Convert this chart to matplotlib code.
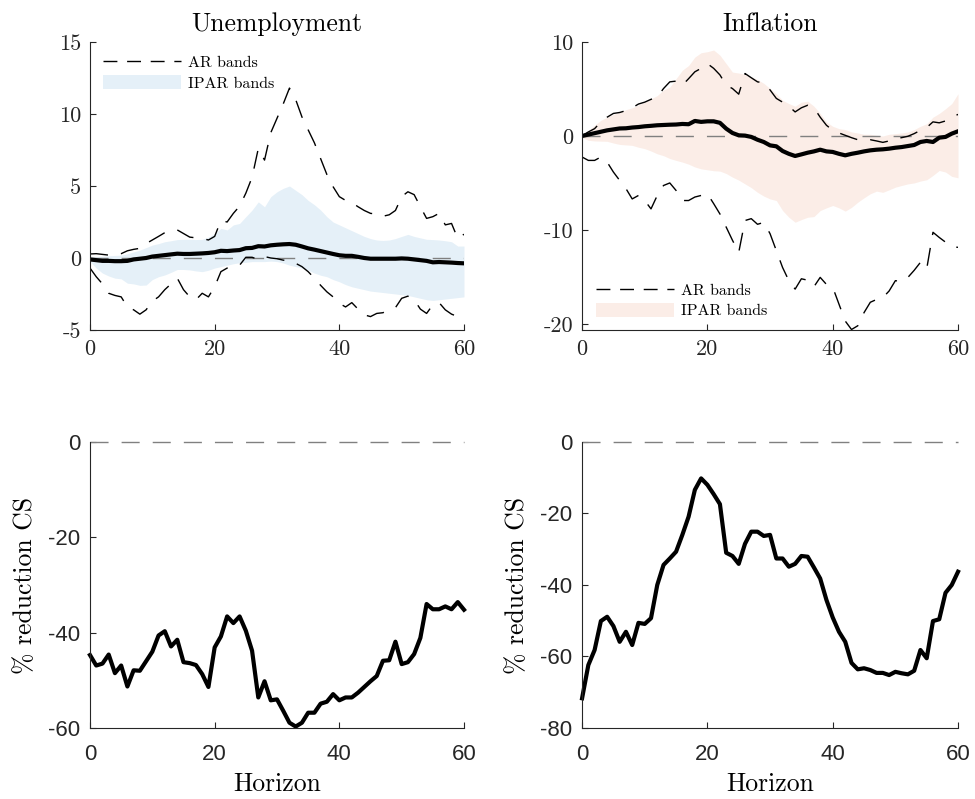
"""
Impulse response bands (AR vs IPAR) and the % reduction in confidence-set width.
"""

import numpy as np
import matplotlib
matplotlib.use("Agg")
import matplotlib.pyplot as plt
from matplotlib.patches import Patch
from matplotlib.lines import Line2D

horizon = np.arange(61)

# Unemployment: point estimate, AR bands and IPAR bands
unemp_mid = [-0.1, -0.15, -0.2, -0.2, -0.22, -0.22, -0.2, -0.1, -0.05, 0.0,
             0.1, 0.15, 0.2, 0.25, 0.3, 0.28, 0.28, 0.3, 0.32, 0.35,
             0.4, 0.5, 0.48, 0.52, 0.55, 0.68, 0.7, 0.82, 0.8, 0.88,
             0.92, 0.95, 0.97, 0.92, 0.8, 0.67, 0.58, 0.48, 0.38, 0.28,
             0.19, 0.15, 0.15, 0.08, 0.0, -0.05, -0.05, -0.05, -0.05, -0.05,
             -0.03, -0.05, -0.1, -0.15, -0.2, -0.3, -0.28, -0.3, -0.32, -0.35,
             -0.37]
unemp_ar_hi = [0.28, 0.3, 0.25, 0.2, 0.22, 0.3, 0.5, 0.6, 0.67, 1.0,
               1.25, 1.5, 1.76, 1.9, 1.95, 1.7, 1.45, 1.4, 1.35, 1.25,
               1.5, 2.6, 2.5, 3.1, 3.6, 4.5, 5.6, 7.6, 6.8, 8.7,
               9.7, 10.7, 11.8, 11.0, 9.8, 8.9, 8.0, 6.9, 5.8, 4.95,
               4.26, 4.0, 3.85, 3.56, 3.3, 3.1, 3.05, 2.9, 3.0, 3.3,
               4.26, 4.6, 4.4, 3.56, 2.75, 2.87, 3.1, 2.3, 2.4, 1.35,
               1.65]
unemp_ar_lo = [-0.7, -1.3, -1.8, -2.45, -2.6, -2.7, -3.4, -3.6, -3.9, -3.6,
               -3.0, -2.7, -2.2, -1.8, -1.4, -2.2, -2.7, -2.9, -2.45, -2.7,
               -2.0, -0.95, -0.7, -0.55, -0.5, 0.05, 0.05, -0.1, 0.1, 0.0,
               -0.05, -0.15, -0.2, -0.37, -0.6, -0.95, -1.4, -1.9, -2.35, -2.7,
               -3.15, -3.4, -3.1, -3.55, -3.95, -4.07, -3.85, -3.8, -3.6, -3.45,
               -2.8, -2.65, -2.9, -3.55, -3.85, -3.25, -3.1, -3.6, -3.9, -4.07,
               -4.3]
unemp_ipar_hi = [0.05, 0.1, 0.12, 0.15, 0.18, 0.2, 0.3, 0.42, 0.55, 0.72,
                 0.9, 1.0, 1.13, 1.2, 1.28, 1.3, 1.3, 1.28, 1.3, 1.45,
                 1.7, 2.06, 1.95, 2.3, 2.4, 2.87, 3.33, 3.9, 3.56, 4.26,
                 4.6, 4.84, 5.0, 4.7, 4.4, 4.0, 3.7, 3.33, 2.87, 2.5,
                 2.3, 2.1, 1.9, 1.7, 1.5, 1.35, 1.25, 1.22, 1.25, 1.35,
                 1.5, 1.64, 1.5, 1.4, 1.3, 1.28, 1.25, 1.2, 1.13, 0.83,
                 0.83]
unemp_ipar_lo = [-0.25, -0.7, -1.05, -1.25, -1.4, -1.45, -1.75, -1.8, -1.9, -1.88,
                 -1.5, -1.3, -1.18, -1.0, -0.8, -0.8, -0.83, -0.9, -0.95, -0.85,
                 -0.7, -0.6, -0.5, -0.4, -0.33, -0.3, -0.25, -0.25, -0.25, -0.22,
                 -0.25, -0.35, -0.5, -0.6, -0.7, -0.85, -1.05, -1.2, -1.3, -1.5,
                 -1.65, -1.85, -2.0, -2.1, -2.2, -2.3, -2.35, -2.4, -2.45, -2.5,
                 -2.55, -2.6, -2.7, -2.8, -2.9, -2.95, -2.9, -2.85, -2.8, -2.75,
                 -2.7]

# Inflation: point estimate, AR bands and IPAR bands
infl_mid = [0.0, 0.15, 0.3, 0.45, 0.6, 0.7, 0.8, 0.82, 0.9, 0.95,
            1.03, 1.08, 1.14, 1.17, 1.2, 1.22, 1.28, 1.25, 1.6, 1.5,
            1.56, 1.56, 1.4, 0.78, 0.32, 0.07, 0.04, -0.1, -0.4, -0.64,
            -1.0, -1.1, -1.6, -1.9, -2.13, -1.96, -1.78, -1.64, -1.46, -1.64,
            -1.7, -1.9, -2.06, -1.9, -1.78, -1.64, -1.53, -1.46, -1.42, -1.35,
            -1.25, -1.18, -1.07, -0.96, -0.64, -0.53, -0.64, -0.18, -0.1, 0.25,
            0.5]
infl_ar_hi = [0.03, 0.43, 0.78, 1.5, 2.0, 2.4, 2.5, 2.7, 3.0, 3.4,
              3.6, 3.9, 4.16, 5.05, 5.76, 5.84, 5.4, 6.1, 6.83, 7.2,
              7.7, 7.2, 6.5, 5.4, 5.05, 4.45, 6.65, 6.2, 5.76, 5.66,
              4.9, 4.0, 3.6, 3.17, 2.56, 3.0, 3.27, 3.0, 2.0, 1.14,
              0.6, 0.32, 0.07, -0.18, -0.4, -0.46, -0.4, -0.53, -0.68, -0.53,
              -0.28, -0.18, -0.03, 0.25, 0.6, 0.9, 1.5, 1.4, 1.6, 1.96,
              2.3]
infl_ar_lo = [-2.24, -2.6, -2.6, -2.24, -2.78, -3.84, -4.73, -5.6, -6.7, -6.33,
              -6.87, -7.76, -6.33, -5.27, -5.0, -5.8, -6.87, -6.87, -6.5, -6.33,
              -6.15, -7.2, -8.3, -9.7, -11.1, -12.4, -9.0, -8.8, -9.4, -9.2,
              -10.4, -12.2, -14.0, -15.4, -16.3, -15.2, -15.35, -16.05, -15.05, -15.8,
              -16.1, -17.9, -19.7, -20.6, -20.2, -18.8, -17.7, -17.4, -17.2, -16.5,
              -15.4, -15.5, -15.05, -14.3, -13.45, -14.15, -10.25, -10.8, -11.3, -11.8,
              -11.85]
infl_ipar_hi = [0.0, 0.6, 1.14, 1.67, 2.0, 2.3, 2.56, 2.8, 3.0, 3.3,
                3.6, 3.95, 4.3, 4.9, 5.2, 6.1, 7.0, 7.5, 8.4, 8.86,
                8.97, 9.15, 8.6, 7.7, 6.8, 6.7, 6.58, 6.3, 6.0, 5.6,
                5.05, 4.5, 3.8, 3.45, 3.17, 3.6, 3.7, 3.17, 2.4, 1.5,
                1.03, 0.78, 0.68, 0.43, 0.32, 0.18, 0.18, 0.07, 0.0, 0.18,
                0.25, 0.32, 0.43, 0.68, 1.03, 1.3, 2.0, 2.4, 2.9, 3.45,
                4.5]
infl_ipar_lo = [-0.18, -0.46, -0.53, -0.55, -0.57, -0.75, -0.9, -0.95, -1.0, -1.2,
                -1.35, -1.6, -1.9, -2.1, -2.4, -2.6, -2.78, -3.0, -3.3, -3.5,
                -3.6, -3.7, -3.74, -4.0, -4.38, -4.7, -5.1, -5.5, -6.0, -6.4,
                -6.7, -6.87, -7.94, -8.65, -9.18, -8.9, -8.65, -8.58, -7.94, -7.65,
                -7.4, -7.65, -8.0, -7.6, -7.05, -6.58, -6.15, -5.87, -6.0, -5.73,
                -5.45, -5.27, -5.1, -5.0, -4.8, -4.66, -4.2, -3.67, -3.84, -4.3,
                -4.45]

# % reduction in confidence-set width (IPAR vs AR)
cs_unemp = [-44.7, -46.9, -46.5, -44.6, -48.5, -46.9, -51.3, -47.9, -48.0, -46.0,
            -44.0, -40.6, -39.7, -42.9, -41.5, -46.2, -46.4, -46.8, -48.7, -51.4,
            -43.1, -40.8, -36.6, -38.0, -36.6, -39.6, -43.8, -53.6, -50.2, -54.2,
            -54.0, -56.4, -58.9, -59.7, -58.9, -56.8, -56.8, -54.9, -54.5, -52.9,
            -54.2, -53.6, -53.6, -52.6, -51.4, -50.2, -49.1, -45.9, -45.8, -41.9,
            -46.6, -46.2, -44.5, -41.1, -34.0, -35.1, -35.1, -34.5, -35.1, -33.6,
            -35.2]
cs_infl = [-71.7, -62.4, -58.2, -50.1, -48.9, -51.5, -55.9, -53.1, -56.8, -50.6,
           -50.9, -49.3, -40.0, -34.4, -32.6, -30.7, -26.0, -20.9, -13.4, -10.2,
           -12.0, -14.6, -17.4, -31.0, -31.9, -34.1, -28.5, -25.1, -25.1, -26.3,
           -26.0, -32.6, -32.6, -34.9, -34.1, -31.9, -32.1, -35.1, -38.2, -44.2,
           -49.1, -53.1, -55.9, -61.8, -63.6, -63.3, -63.8, -64.6, -64.6, -65.2,
           -64.3, -64.7, -65.0, -64.0, -58.2, -60.5, -50.1, -49.6, -42.2, -40.0,
           -36.3]

xticks = [0, 20, 40, 60]

AXCOL = "#262626"
SERIF = "cmr10"
SANS = "Liberation Sans"
BLUE_FILL = (0.0, 0.447, 0.741, 0.1)
RED_FILL = (0.85, 0.325, 0.098, 0.1)
DASH = (0, (13, 9.4))

plt.rcParams["axes.unicode_minus"] = False
plt.rcParams["lines.scale_dashes"] = False


def style_axes(ax, tick_font, tick_size, xpad, ypad):
    ax.spines["top"].set_visible(False)
    ax.spines["right"].set_visible(False)
    for s in ("left", "bottom"):
        ax.spines[s].set_color(AXCOL)
        ax.spines[s].set_linewidth(0.8)
    ax.tick_params(direction="in", length=4, width=0.8, color=AXCOL,
                   labelcolor=AXCOL)
    ax.tick_params(axis="x", pad=xpad)
    ax.tick_params(axis="y", pad=ypad)
    ax.set_xlim(0, 60)
    ax.set_xticks(xticks)
    for lab in ax.get_xticklabels() + ax.get_yticklabels():
        lab.set_fontfamily(tick_font)
        lab.set_fontsize(tick_size)


def band_panel(ax, mid, ar_hi, ar_lo, ip_hi, ip_lo, fill, title, ylim, yticks,
               legend_loc, legend_anchor):
    ax.fill_between(horizon, ip_lo, ip_hi, color=fill, linewidth=0)
    ax.plot([0, 60], [0, 0], color="#808080", lw=1.0, ls=DASH)
    ax.plot(horizon, ar_hi, color="black", lw=1.0, ls=DASH)
    ax.plot(horizon, ar_lo, color="black", lw=1.0, ls=DASH)
    ax.plot(horizon, mid, color="black", lw=3.0)
    ax.set_ylim(*ylim)
    ax.set_yticks(yticks)
    ax.set_title(title, fontfamily=SERIF, fontsize=18.5, color="black", pad=8)
    handles = [Line2D([], [], color="black", lw=1.0, ls=(0, (10, 7))),
               Patch(facecolor=fill, edgecolor="none")]
    ax.legend(handles, ["AR bands", "IPAR bands"], loc=legend_loc,
              bbox_to_anchor=legend_anchor, frameon=False,
              prop={"family": SERIF, "size": 11.5}, handlelength=4.9,
              handleheight=0.95, handletextpad=0.4, labelspacing=0.3,
              borderpad=0, borderaxespad=0)
    style_axes(ax, SERIF, 16, 6.5, 6.5)


def cs_panel(ax, values, ylim, yticks):
    ax.plot([0, 60], [0, 0], color="#808080", lw=1.0, ls=DASH, clip_on=False)
    ax.plot(horizon, values, color="black", lw=3.0, clip_on=False)
    ax.set_ylim(*ylim)
    ax.set_yticks(yticks)
    ax.set_xlabel("Horizon", fontfamily=SERIF, fontsize=18.5, color="black",
                  labelpad=5)
    ax.set_ylabel("% reduction CS", fontfamily=SERIF, fontsize=18.5,
                  color="black", labelpad=8)
    style_axes(ax, SANS, 16, 11.5, 7)


def plot_figure(output_file="out.png"):
    fig = plt.figure(figsize=(9.75, 7.99), dpi=100)
    ax1 = fig.add_axes([0.0923, 0.587, 0.3836, 0.3604])
    ax2 = fig.add_axes([0.597, 0.587, 0.3856, 0.3604])
    ax3 = fig.add_axes([0.0923, 0.0889, 0.3836, 0.358])
    ax4 = fig.add_axes([0.597, 0.0889, 0.3856, 0.358])

    band_panel(ax1, unemp_mid, unemp_ar_hi, unemp_ar_lo, unemp_ipar_hi,
               unemp_ipar_lo, BLUE_FILL, "Unemployment", (-5, 15),
               [-5, 0, 5, 10, 15], "upper left", (0.035, 0.955))
    band_panel(ax2, infl_mid, infl_ar_hi, infl_ar_lo, infl_ipar_hi,
               infl_ipar_lo, RED_FILL, "Inflation", (-20.65, 10),
               [-20, -10, 0, 10], "lower left", (0.037, 0.04))

    cs_panel(ax3, cs_unemp, (-60, 0), [-60, -40, -20, 0])
    cs_panel(ax4, cs_infl, (-80, 0), [-80, -60, -40, -20, 0])

    fig.savefig(output_file, dpi=100)


if __name__ == "__main__":
    plot_figure()
